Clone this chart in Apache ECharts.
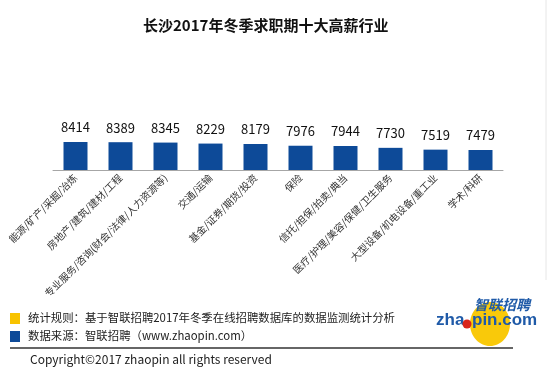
<!DOCTYPE html>
<html>
<head>
<meta charset="utf-8">
<script src="https://cdn.jsdelivr.net/npm/echarts@6/dist/echarts.min.js"></script>
<style>
  html, body { margin: 0; padding: 0; background: #fff; }
  #chart { width: 550px; height: 376px; }
</style>
</head>
<body>
<div id="chart"></div>
<script>
var industries = [
    '能源/矿产/采掘/冶炼',
    '房地产/建筑/建材/工程',
    '专业服务/咨询(财会/法律/人力资源等)',
    '交通/运输',
    '基金/证券/期货/投资',
    '保险',
    '信托/担保/拍卖/典当',
    '医疗/护理/美容/保健/卫生服务',
    '大型设备/机电设备/重工业',
    '学术/科研'
];
var salary = [8414, 8389, 8345, 8229, 8179, 7976, 7944, 7730, 7519, 7479];

var font = '"Noto Sans CJK SC", "Noto Sans", sans-serif';
var logoFont = 'bold 17px "Liberation Sans", sans-serif';
var chart = echarts.init(document.getElementById('chart'));

var option = {
    backgroundColor: '#fff',
    animation: false,
    title: {
        text: '长沙2017年冬季求职期十大高薪行业',
        left: 138,
        top: 13,
        textStyle: { fontFamily: font, fontSize: 15, fontWeight: 'bold', color: '#111' }
    },
    grid: { left: 53, right: 47, top: 130, height: 40 },
    xAxis: {
        type: 'category',
        data: industries,
        axisLine: { lineStyle: { color: '#a6a6a6', width: 1 } },
        axisTick: { length: 4, lineStyle: { color: '#a6a6a6' } },
        axisLabel: {
            interval: 0,
            rotate: 45,
            margin: 6,
            fontFamily: font,
            fontSize: 10,
            color: '#333'
        }
    },
    yAxis: {
        type: 'value',
        min: 5140,
        max: 9815,
        show: false,
        splitLine: { show: false }
    },
    series: [{
        type: 'bar',
        data: salary,
        barWidth: 24,
        itemStyle: { color: '#0d4a98' },
        label: {
            show: true,
            position: 'top',
            distance: 8,
            fontFamily: font,
            fontSize: 13,
            color: '#111'
        }
    }],
    graphic: [
        { type: 'line', shape: { x1: 546, y1: 0, x2: 546, y2: 280 }, style: { stroke: '#e6e6e6', lineWidth: 1 } },
        { type: 'rect', shape: { x: 10, y: 313, width: 10, height: 11 }, style: { fill: '#f8c300' } },
        { type: 'rect', shape: { x: 10, y: 331, width: 10, height: 11 }, style: { fill: '#0d4a98' } },
        {
            type: 'text', left: 28, top: 312,
            style: { text: '统计规则：基于智联招聘2017年冬季在线招聘数据库的数据监测统计分析', font: '11.4px ' + font, fill: '#222' }
        },
        {
            type: 'text', left: 28, top: 330,
            style: { text: '数据来源：智联招聘（www.zhaopin.com）', font: '11.4px ' + font, fill: '#222' }
        },
        { type: 'line', shape: { x1: 10, y1: 348, x2: 513, y2: 348 }, style: { stroke: '#333', lineWidth: 1.5 } },
        {
            type: 'text', left: 30, top: 353,
            style: { text: 'Copyright©2017 zhaopin all rights reserved', font: '12px ' + font, fill: '#222' }
        },
        // logo
        { type: 'ellipse', shape: { cx: 490, cy: 324, rx: 20, ry: 22 }, style: { fill: '#f9c90a' } },
        {
            type: 'text', left: 474, top: 298,
            style: { text: '智联招聘', font: 'italic bold 14px ' + font, fill: '#1f5aa8' }
        },
        {
            type: 'text', left: 436, top: 312,
            style: { text: 'zha', font: logoFont, fill: '#1f5aa8' }
        },
        { type: 'circle', shape: { cx: 467, cy: 324, r: 4.5 }, style: { fill: '#d9241b' } },
        {
            type: 'text', left: 472, top: 312,
            style: { text: 'pin.com', font: logoFont, fill: '#1f5aa8' }
        }
    ]
};

chart.setOption(option);
</script>
</body>
</html>
